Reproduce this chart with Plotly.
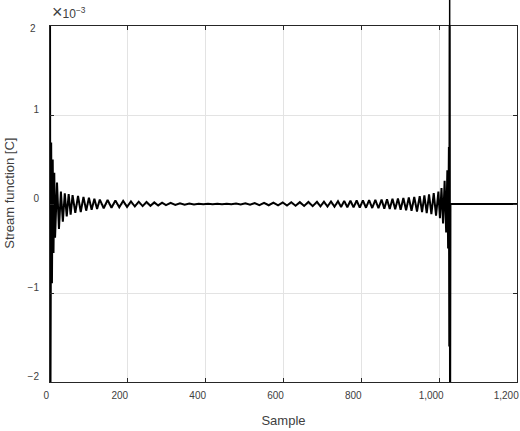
import plotly.graph_objects as go

# stream function samples (units of 1e-3), vertices of the oscillation
sample = [
    0, 1, 3, 5, 7, 9, 11, 13,
    18, 23, 28, 33, 38, 43, 48, 53, 58,
    65, 72, 79, 86, 93, 100, 107, 114, 121, 128,
    138, 148, 158, 168, 178, 188, 198, 208, 218, 228, 238, 248, 258, 268, 278, 288, 298,
    310, 322, 334, 346, 358, 370, 382, 394, 406, 418, 430, 442, 454, 466, 478, 490,
    502, 514, 526, 538, 550, 562, 574, 586, 598,
    609, 620, 631, 642, 653, 664, 675, 686,
    695, 704, 713, 722, 731, 740,
    748, 756, 764, 772, 780, 788, 796, 804, 812, 820, 828, 836, 844, 852,
    859, 866, 873, 880, 887, 894, 901, 908, 915, 922, 929, 936, 943, 950,
    956, 962, 968, 974, 980, 986, 992, 998,
    1002, 1006, 1010, 1014, 1018, 1021, 1023, 1025, 1026,
    1027, 1028, 1029, 1200,
]
psi = [
    2.5, -2.5, 0.69, -0.89, 0.5, -0.55, 0.35, -0.38,
    0.24, -0.28, 0.14, -0.2, 0.12, -0.14, 0.11, -0.12, 0.1,
    -0.1, 0.09, -0.09, 0.08, -0.075, 0.07, -0.065, 0.06, -0.055, 0.05,
    -0.048, 0.045, -0.042, 0.04, -0.037, 0.035, -0.032, 0.03, -0.028, 0.026, -0.024, 0.022, -0.02, 0.018, -0.016, 0.015, -0.013,
    0.012, -0.01, 0.009, -0.008, 0.006, -0.005, 0.004, -0.003, 0.003, -0.002, 0.002, -0.002, 0.003, -0.004, 0.005, -0.006,
    0.008, -0.009, 0.011, -0.012, 0.013, -0.014, 0.015, -0.016, 0.017,
    -0.018, 0.019, -0.02, 0.021, -0.022, 0.023, -0.024, 0.025,
    -0.026, 0.027, -0.028, 0.029, -0.03, 0.031,
    -0.033, 0.035, -0.036, 0.037, -0.038, 0.039, -0.04, 0.041, -0.042, 0.044, -0.045, 0.047, -0.048, 0.05,
    -0.052, 0.054, -0.056, 0.058, -0.06, 0.062, -0.064, 0.067, -0.07, 0.073, -0.076, 0.08, -0.084, 0.088,
    -0.092, 0.097, -0.102, 0.108, -0.115, 0.122, -0.13, 0.14,
    -0.16, 0.18, -0.22, 0.26, -0.32, 0.38, -0.5, 0.64, -1.6,
    3.0, -3.0, 0.0, 0.0,
]
spike_sample = 1027

x_ticks = [0, 200, 400, 600, 800, 1000, 1200]
x_ticklabels = ["0", "200", "400", "600", "800", "1,000", "1,200"]
y_ticks = [-2, -1, 0, 1, 2]
y_ticklabels = ["−2", "−1", "0", "1", "2"]

axis_col = "#262626"
text_col = "#404040"
grid_col = "#e3e3e3"

# edge labels sit a little differently from the rest
pad = "&nbsp;"
x_text = [pad * 3 + x_ticklabels[0]] + x_ticklabels[1:-1] + [x_ticklabels[-1] + pad * 2]
y_text = y_ticklabels[:-1] + [""]

fig = go.Figure()
fig.add_trace(
    go.Scatter(
        x=sample,
        y=psi,
        mode="lines",
        line=dict(color="black", width=2),
        hoverinfo="skip",
        showlegend=False,
    )
)

# the spike overshoots above the axes box
fig.add_shape(
    type="line",
    xref="x",
    yref="paper",
    x0=spike_sample,
    x1=spike_sample,
    y0=1,
    y1=1.08,
    line=dict(color="black", width=1.5),
)

fig.add_annotation(
    text=y_ticklabels[-1],
    xref="paper",
    yref="y",
    x=0,
    y=y_ticks[-1],
    xanchor="right",
    yanchor="middle",
    xshift=-12,
    yshift=-2,
    showarrow=False,
    font=dict(size=10, color=text_col),
)

fig.add_annotation(
    text="<span style='font-size:18px'>×</span>10<sup>−3</sup>",
    xref="paper",
    yref="paper",
    x=0,
    y=1,
    xanchor="left",
    yanchor="bottom",
    yshift=2,
    showarrow=False,
    font=dict(size=12, color=text_col),
)

fig.update_layout(
    width=520,
    height=431,
    margin=dict(l=50, r=3, t=26, b=49),
    paper_bgcolor="white",
    plot_bgcolor="white",
    font=dict(family="Liberation Sans, Arial, sans-serif", size=11, color=text_col),
    showlegend=False,
)
fig.update_xaxes(
    range=[0, 1200],
    tickmode="array",
    tickvals=x_ticks,
    ticktext=x_text,
    tickfont=dict(size=10),
    showgrid=True,
    gridcolor=grid_col,
    zeroline=False,
    showline=True,
    linecolor=axis_col,
    linewidth=1,
    mirror="ticks",
    ticks="inside",
    ticklen=4,
    tickcolor=axis_col,
    ticklabelshift=-8,
    ticklabelstandoff=4,
    ticklabeloverflow="allow",
    automargin=False,
    title=dict(text="Sample", standoff=15),
)
fig.update_yaxes(
    range=[-2, 2],
    tickmode="array",
    tickvals=y_ticks,
    ticktext=y_text,
    tickfont=dict(size=10),
    showgrid=True,
    gridcolor=grid_col,
    zeroline=False,
    showline=True,
    linecolor=axis_col,
    linewidth=1,
    mirror="ticks",
    ticks="inside",
    ticklen=4,
    tickcolor=axis_col,
    ticklabelshift=-6,
    ticklabelstandoff=8,
    ticklabeloverflow="allow",
    automargin=False,
    title=dict(text=pad * 6 + "Stream function [C]", standoff=10),
)

# page body has a default 8px margin; drop it so the figure fills the window
fig.write_html(
    "out.html",
    config={"displayModeBar": False},
    post_script="document.body.style.margin = '0';",
)
